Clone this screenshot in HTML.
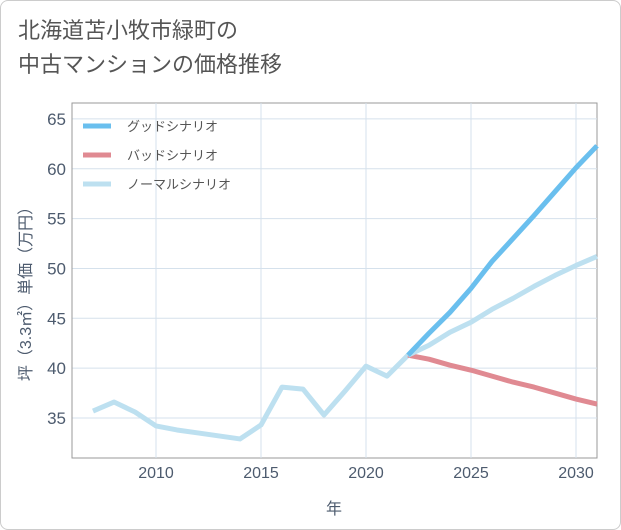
<!DOCTYPE html>
<html><head><meta charset="utf-8"><style>
body{margin:0;background:#fff;font-family:"Liberation Sans","Noto Sans CJK JP",sans-serif}
.frame{position:absolute;left:0;top:0;width:619px;height:528px;border:1px solid #ccc;border-radius:8px}
.title{position:absolute;left:18px;top:14px;font-size:22px;line-height:34px;color:#555}
</style></head><body>
<div class="frame"></div>
<div class="title">北海道苫小牧市緑町の<br>中古マンションの価格推移</div>
<svg id="c" width="621" height="530" style="position:absolute;left:0;top:0"></svg>
<script>
const years=[2007,2008,2009,2010,2011,2012,2013,2014,2015,2016,2017,2018,2019,2020,2021,2022];
const hist=[35.7,36.6,35.6,34.2,33.8,33.5,33.2,32.9,34.3,38.1,37.9,35.3,37.7,40.2,39.2,41.3];
const fYears=[2022,2023,2024,2025,2026,2027,2028,2029,2030,2031];
const good=[41.3,43.5,45.6,48.0,50.7,53.0,55.3,57.7,60.1,62.3];
const normal=[41.3,42.3,43.6,44.6,45.9,47.0,48.2,49.3,50.3,51.2];
const bad=[41.3,40.9,40.3,39.8,39.2,38.6,38.1,37.5,36.9,36.4];
const xTicks=[2010,2015,2020,2025,2030];
const yTicks=[35,40,45,50,55,60,65];
const L=72,R=597,T=103,B=458;
const TC='#4d5b6e';
const x=v=>L+(v-2006)*(R-L)/25;
const y=v=>418-(v-35)*9.97;
const s=document.getElementById('c');const NS='http://www.w3.org/2000/svg';
function el(t,a,p){const e=document.createElementNS(NS,t);for(const k in a)e.setAttribute(k,a[k]);(p||s).appendChild(e);return e;}
el('rect',{x:L,y:T,width:R-L,height:B-T,fill:'none',stroke:'#999','stroke-width':1});
xTicks.forEach(t=>{const g=el('line',{x1:x(t),x2:x(t),y1:T,y2:B,stroke:'#d5e1ec'});
const tx=el('text',{x:x(t),y:478,'text-anchor':'middle','font-size':16,fill:TC});tx.textContent=t;});
yTicks.forEach(t=>{const g=el('line',{x1:L,x2:R,y1:y(t),y2:y(t),stroke:'#d5e1ec'});
const tx=el('text',{x:66,y:y(t)+6,'text-anchor':'end','font-size':17,fill:TC});tx.textContent=t;});
el('line',{x1:L,x2:L,y1:T,y2:B,stroke:'#999'});
function line(xs,vs,c,n){const p=el('polyline',{points:xs.map((v,i)=>x(v)+','+y(vs[i])).join(' '),fill:'none',stroke:c,'stroke-width':5,'stroke-linejoin':'round'});}
line(years,hist,'#bde0f0','history-line');
line(fYears,bad,'#e08a92','bad-scenario-line');
line(fYears,normal,'#bde0f0','normal-scenario-line');
line(fYears,good,'#6abfee','good-scenario-line');
const leg=[['グッドシナリオ','#6abfee'],['バッドシナリオ','#e08a92'],['ノーマルシナリオ','#bde0f0']];
leg.forEach((l,i)=>{const yy=126+i*29;const r=el('line',{x1:83,x2:111,y1:yy,y2:yy,stroke:l[1],'stroke-width':5});
const t=el('text',{x:127,y:yy+5,'font-size':13,fill:'#555'});t.textContent=l[0];});
const xt=el('text',{x:334,y:514,'text-anchor':'middle','font-size':16,fill:TC});xt.textContent='年';
const yt=el('text',{x:0,y:0,'text-anchor':'middle','font-size':16,fill:TC,transform:'translate(31,290) rotate(-90)'});yt.textContent='坪（3.3㎡）単価（万円）';
</script>
</body></html>
